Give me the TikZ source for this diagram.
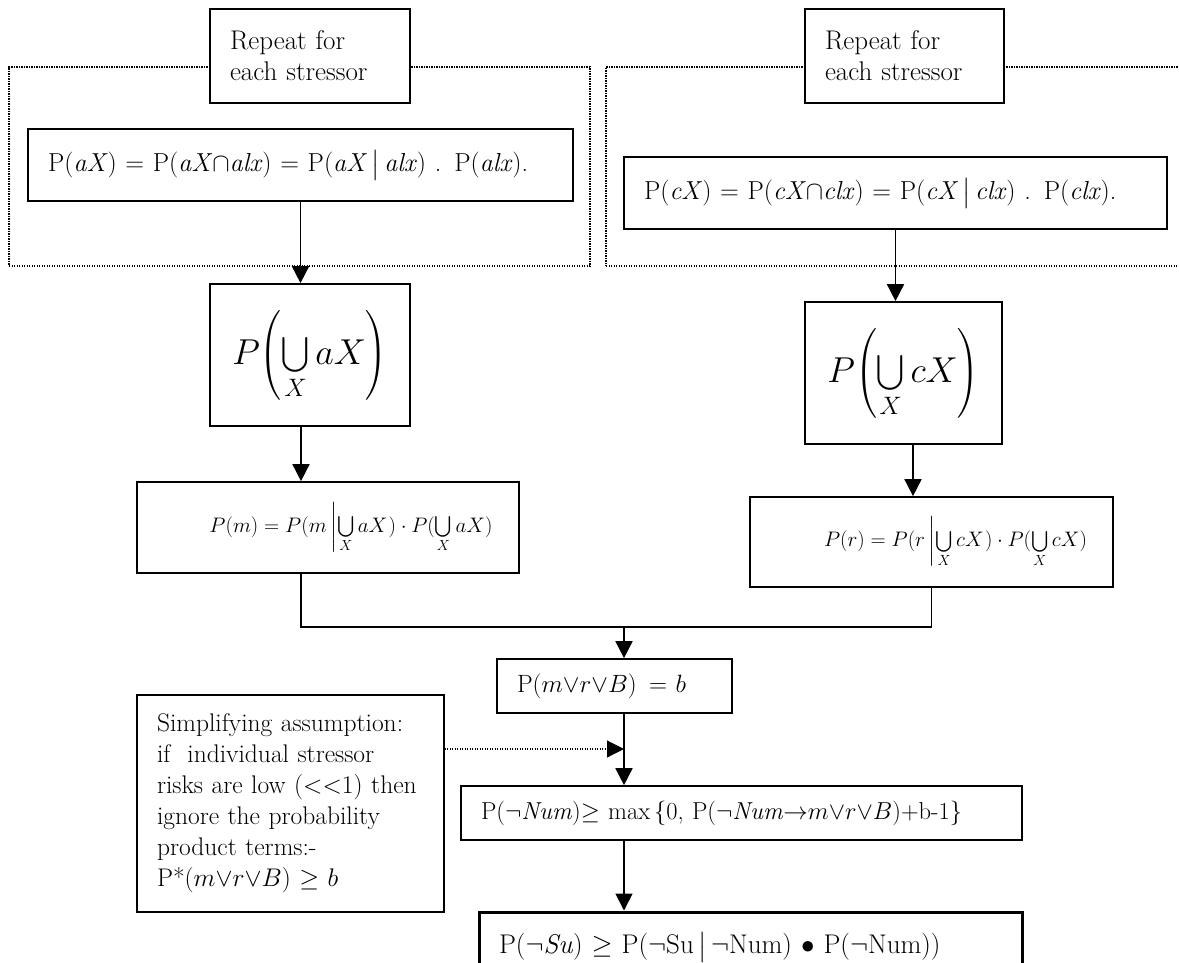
\documentclass[tikz,border=0pt]{standalone}
\usepackage{fix-cm}
\usepackage{amsmath}
\usetikzlibrary{arrows.meta}
\tikzset{
  lbox/.style={draw, line width=1.7pt, fill=white, align=left, inner xsep=20pt, inner ysep=0pt,
    font=\fontsize{25}{31}\selectfont},
  mbox/.style={draw, line width=1.7pt, fill=white, inner sep=0pt},
  loopframe/.style={draw, line width=1.1pt, dash pattern=on 1.1pt off 1.4pt, inner sep=0pt},
  arr/.style={line width=1.7pt, -{Triangle[length=17pt,width=17pt]}},
  dotarr/.style={line width=1.1pt, dash pattern=on 1.1pt off 1.4pt, -{Triangle[length=17pt,width=17pt]}},
  link/.style={line width=1.7pt},
  fs/.style={font=\fontsize{#1}{31}\selectfont},
}
\begin{document}
\begin{tikzpicture}[x=1pt,y=-1pt]
\useasboundingbox (0,0) rectangle (1179,962);
\clip (0,0) rectangle (1179,962);

% dotted loop frames (one per stressor family)
\node[loopframe, minimum width=581, minimum height=199] (frameA) at (299.5,166.5) {};
\node[loopframe, minimum width=590, minimum height=199] (frameC) at (901,166.5) {};

% left branch
\node[lbox, fs=27, text width=160, minimum height=94] (repA) at (310,56) {Repeat for\\each stressor};
\node[lbox, fs=26, text width=505, minimum height=72] (A1) at (300.5,165)
  {P(\textit{aX}) = P(\textit{aX}$\cap$\textit{alx}) = P(\textit{aX}\,$\big|$\,\textit{alx}) . P(\textit{alx}).};
\node[mbox, minimum width=200, minimum height=142, font=\fontsize{36}{44}\selectfont] (A2) at (310,355)
  {$\displaystyle P\!\left(\bigcup_X aX\right)$};
\node[mbox, minimum width=382, minimum height=91, font=\fontsize{21}{25}\selectfont] (A3) at (328,527.5)
  {\hspace*{46pt}$P(m) = P(m\left|\bigcup\limits_X aX\right.)\cdot P(\bigcup\limits_X aX)$};

% right branch
\node[lbox, fs=27, text width=159, minimum height=94] (repC) at (904.5,56) {Repeat for\\each stressor};
\node[lbox, fs=26, text width=503, minimum height=72] (C1) at (895.5,193)
  {P(\textit{cX}) = P(\textit{cX}$\cap$\textit{clx}) = P(\textit{cX}\,$\big|$\,\textit{clx}) . P(\textit{clx}).};
\node[mbox, minimum width=197, minimum height=142, font=\fontsize{36}{44}\selectfont] (C2) at (903.5,373)
  {$\displaystyle P\!\left(\bigcup_X cX\right)$};
\node[mbox, minimum width=363, minimum height=90, font=\fontsize{21}{25}\selectfont] (C3) at (931.5,542)
  {\hspace*{48pt}$P(r) = P(r\left|\bigcup\limits_X cX\right.)\cdot P(\bigcup\limits_X cX)$};

% combined part
\node[lbox, fs=25, text width=195, minimum height=54] (B) at (614.5,686)
  {P($m{\vee}r{\vee}B$)\enspace = $b$};
\node[lbox, fs=24.5, text width=521, minimum height=54] (N) at (741.5,813)
  {P($\neg$\textit{Num})$\geq$ max\,\{0, P($\neg$\textit{Num}$\rightarrow$$m{\vee}r{\vee}B$)+b-1\}};
\node[lbox, fs=27, text width=503, minimum height=70, line width=3pt] (Su) at (750.5,947)
  {P($\neg$\textit{Su}) $\geq$ P($\neg$Su\,$\big|$\,$\neg$Num) $\bullet$ P($\neg$Num))};
\node[lbox, fs=25.5, text width=267, minimum height=217] (S) at (290.5,803.5)
  {Simplifying assumption:\\if\ \ individual stressor\\risks are low (<{}<1) then\\ignore the probability\\product terms:-\\P*($m{\vee}r{\vee}B$) $\geq$ $b$};

% connector columns
\coordinate (ax) at (301,0);
\coordinate (cx) at (913,0);
\coordinate (jn) at (624,627);
\coordinate (tip) at (624,749);

\draw[arr] (A1.south) -- (A1.south |- A2.north);
\draw[arr] (ax |- A2.south) -- (ax |- A3.north);
\draw[arr] (C1.south) -- (C1.south |- C2.north);
\draw[arr] (cx |- C2.south) -- (cx |- C3.north);
\draw[link] (ax |- A3.south) -- (ax |- jn) -- (C3.south |- jn) -- (C3.south);
\draw[arr] (jn) -- (jn |- B.north);
\draw[arr] (jn |- B.south) -- (jn |- N.north);
\draw[arr] (jn |- N.south) -- (jn |- Su.north);
\draw[dotarr] (S.east |- tip) -- (tip);
\end{tikzpicture}
\end{document}
